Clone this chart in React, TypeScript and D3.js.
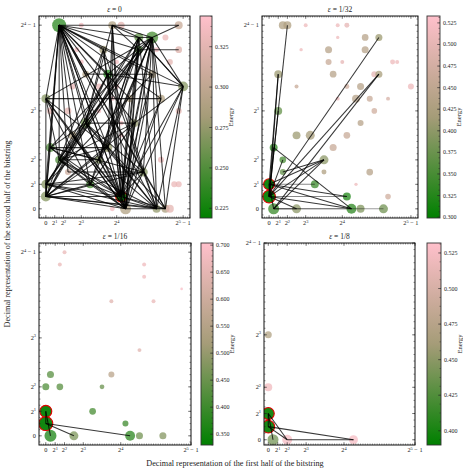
import React from "react";
import * as d3 from "d3";

// Node: [first-half value, second-half value, energy, probability, highlighted]
type Node = [number, number, number, number, number?];
// Edge: [x1, y1, x2, y2, weight]
type Edge = [number, number, number, number, number?];

const X_TICKS = [0, 2, 4, 8, 16, 31];
const Y_TICKS = [0, 2, 4, 8, 15];
// [base, exponent, suffix]
const X_TICK_LABELS: [string, string, string][] = [
  ["0", "", ""], ["2", "1", ""], ["2", "2", ""], ["2", "3", ""], ["2", "4", ""], ["2", "5", " − 1"],
];
const Y_TICK_LABELS: [string, string, string][] = [
  ["0", "", ""], ["2", "1", ""], ["2", "2", ""], ["2", "3", ""], ["2", "4", " − 1"],
];

const TITLES = ["0", "1/32", "1/16", "1/8"];

const nodesEps0: Node[] = [
  [8, 15, 0.335, 0.11], [15, 15, 0.29, 0.28], [17, 15, 0.325, 0.22], [30, 15, 0.305, 0.28],
  [21, 14, 0.255, 0.36], [27, 14, 0.33, 0.16],
  [7, 13, 0.335, 0.11], [13, 13, 0.28, 0.28], [21, 13, 0.25, 0.28], [25, 13, 0.335, 0.11], [30, 13, 0.32, 0.2],
  [8, 12, 0.335, 0.11], [28, 12, 0.325, 0.16], [16, 12, 0.335, 0.09],
  [9, 11, 0.29, 0.2], [14, 11, 0.232, 0.36], [24, 11, 0.29, 0.28],
  [6, 10, 0.33, 0.16], [12, 10, 0.33, 0.16], [16, 10, 0.335, 0.11], [31, 10, 0.27, 0.44],
  [0, 9, 0.27, 0.36], [15, 9, 0.335, 0.11], [19, 9, 0.29, 0.22], [26, 9, 0.29, 0.28],
  [1, 8, 0.325, 0.2], [5, 8, 0.325, 0.2], [12, 8, 0.335, 0.09], [30, 8, 0.325, 0.16],
  [9, 7, 0.262, 0.44], [17, 7, 0.335, 0.11], [20, 7, 0.275, 0.28],
  [6, 6, 0.29, 0.28], [17, 6, 0.335, 0.09],
  [1, 5, 0.25, 0.36], [14, 5, 0.275, 0.36],
  [3, 4, 0.25, 0.28], [12, 4, 0.27, 0.28], [26, 4, 0.33, 0.16],
  [5, 3, 0.31, 0.16], [22, 3, 0.27, 0.36],
  [0, 2, 0.27, 0.36], [10, 2, 0.245, 0.28], [29, 2, 0.33, 0.16], [30, 2, 0.33, 0.16],
  [0, 1, 0.27, 0.44],
  [15, 0, 0.335, 0.11], [18, 0, 0.29, 0.54], [25, 0, 0.275, 0.28], [27, 0, 0.285, 0.28], [28, 0, 0.325, 0.28],
  [24, 14, 0.245, 0.64], [3, 15, 0.235, 0.87],
  [17, 1, 0.222, 0.54, 1],
];

const edgesEps0: Edge[] = [
  [3, 15, 0, 9], [3, 15, 0, 2], [3, 15, 0, 1], [3, 15, 1, 5], [3, 15, 3, 4], [3, 15, 5, 3], [3, 15, 6, 6],
  [3, 15, 9, 7], [3, 15, 10, 2], [3, 15, 12, 4], [3, 15, 14, 5], [3, 15, 14, 11], [3, 15, 17, 1], [3, 15, 18, 0],
  [3, 15, 20, 7], [3, 15, 22, 3], [3, 15, 25, 0], [3, 15, 27, 0], [3, 15, 21, 13], [3, 15, 30, 15], [3, 15, 31, 10],
  [3, 15, 24, 11], [3, 15, 13, 13], [3, 15, 26, 9], [3, 15, 19, 9], [3, 15, 9, 11], [3, 15, 21, 14],
  [24, 14, 17, 1], [24, 14, 18, 0], [24, 14, 25, 0], [24, 14, 27, 0], [24, 14, 14, 5], [24, 14, 12, 4],
  [24, 14, 22, 3], [24, 14, 10, 2], [24, 14, 9, 7], [24, 14, 0, 2], [24, 14, 1, 5], [24, 14, 31, 10],
  [24, 14, 30, 15], [24, 14, 21, 14], [24, 14, 15, 15], [24, 14, 20, 7], [24, 14, 14, 11],
  [21, 14, 17, 1], [21, 14, 18, 0], [21, 14, 10, 2], [21, 14, 12, 4], [21, 14, 14, 5], [21, 14, 3, 4],
  [21, 14, 0, 1], [21, 14, 31, 10], [21, 14, 15, 15], [21, 14, 25, 0],
  [15, 15, 17, 1], [15, 15, 18, 0], [15, 15, 15, 9], [15, 15, 14, 5], [15, 15, 9, 7], [15, 15, 21, 13],
  [21, 13, 30, 13], [21, 13, 17, 1], [21, 13, 18, 0], [21, 13, 0, 2], [21, 13, 3, 4], [21, 13, 12, 4],
  [14, 11, 24, 11], [9, 11, 14, 11], [14, 11, 17, 1], [14, 11, 18, 0], [14, 11, 0, 1], [14, 11, 9, 7],
  [14, 11, 3, 4], [14, 11, 22, 3],
  [31, 10, 27, 0], [31, 10, 25, 0], [31, 10, 17, 1], [31, 10, 14, 11], [31, 10, 22, 3], [31, 10, 20, 7],
  [31, 10, 21, 14],
  [0, 9, 26, 9], [0, 9, 0, 1], [0, 9, 17, 1], [0, 9, 18, 0], [0, 9, 10, 2], [0, 9, 3, 4], [0, 9, 14, 5],
  [0, 9, 24, 14],
  [13, 13, 17, 1], [13, 13, 18, 0], [13, 13, 9, 7], [13, 13, 3, 4], [13, 13, 25, 0],
  [9, 7, 17, 1], [9, 7, 18, 0], [9, 7, 0, 1], [9, 7, 0, 2], [9, 7, 25, 0], [9, 7, 27, 0], [9, 7, 1, 5],
  [9, 7, 22, 3], [9, 7, 20, 7],
  [20, 7, 17, 1], [20, 7, 18, 0], [20, 7, 0, 1], [20, 7, 3, 4], [20, 7, 10, 2],
  [14, 5, 17, 1], [14, 5, 0, 1], [14, 5, 1, 5], [14, 5, 3, 4], [14, 5, 25, 0],
  [1, 5, 17, 1], [1, 5, 18, 0], [1, 5, 12, 4], [1, 5, 0, 1], [1, 5, 22, 3],
  [3, 4, 12, 4], [3, 4, 17, 1], [3, 4, 18, 0], [3, 4, 0, 1], [3, 4, 10, 2], [3, 4, 25, 0],
  [12, 4, 17, 1], [12, 4, 18, 0], [12, 4, 0, 1], [12, 4, 25, 0],
  [22, 3, 5, 3], [22, 3, 17, 1], [22, 3, 18, 0], [22, 3, 0, 1], [22, 3, 0, 2], [22, 3, 25, 0], [22, 3, 27, 0],
  [10, 2, 17, 1], [10, 2, 18, 0], [10, 2, 0, 1], [10, 2, 0, 2],
  [0, 1, 17, 1], [0, 1, 18, 0], [0, 1, 25, 0], [0, 1, 27, 0], [0, 1, 0, 2],
  [0, 2, 17, 1], [0, 2, 18, 0], [0, 2, 25, 0],
  [17, 1, 25, 0], [17, 1, 27, 0], [17, 1, 18, 0], [18, 0, 27, 0],
  [26, 9, 17, 1], [26, 9, 18, 0], [26, 9, 24, 14],
  [19, 9, 17, 1], [24, 11, 17, 1], [24, 11, 18, 0], [24, 11, 0, 2],
  [6, 6, 17, 1], [6, 6, 18, 0],
];

const nodesEps32: Node[] = [
  [3, 15, 0.43, 0.28], [4, 15, 0.43, 0.28], [8, 15, 0.51, 0.07], [15, 15, 0.51, 0.07], [17, 15, 0.5, 0.11],
  [15, 14, 0.51, 0.05], [21, 14, 0.44, 0.2], [24, 14, 0.41, 0.22],
  [7, 13, 0.51, 0.05], [13, 13, 0.44, 0.22], [21, 13, 0.44, 0.22],
  [13, 12, 0.46, 0.16], [16, 12, 0.5, 0.07], [27, 12, 0.51, 0.11], [28, 12, 0.51, 0.07],
  [2, 11, 0.41, 0.28], [14, 11, 0.44, 0.2], [23, 11, 0.5, 0.16], [24, 11, 0.42, 0.22],
  [6, 10, 0.46, 0.07], [17, 10, 0.47, 0.11], [20, 10, 0.44, 0.22], [31, 10, 0.51, 0.16],
  [15, 9, 0.51, 0.07], [19, 9, 0.44, 0.28], [22, 9, 0.46, 0.16], [26, 9, 0.48, 0.07],
  [2, 8, 0.37, 0.28], [23, 8, 0.47, 0.14],
  [20, 7, 0.44, 0.16],
  [6, 6, 0.41, 0.28], [9, 6, 0.42, 0.36], [17, 6, 0.46, 0.2],
  [1, 5, 0.33, 0.28], [14, 5, 0.46, 0.22],
  [3, 4, 0.35, 0.2], [12, 4, 0.4, 0.36],
  [3, 3, 0.37, 0.16], [12, 3, 0.43, 0.11], [22, 3, 0.44, 0.2],
  [10, 2, 0.34, 0.28], [19, 2, 0.51, 0.05],
  [17, 1, 0.32, 0.28], [26, 1, 0.47, 0.14],
  [1, 0, 0.34, 0.54], [6, 0, 0.4, 0.36], [18, 0, 0.33, 0.44], [20, 0, 0.39, 0.28], [25, 0, 0.38, 0.36],
  [0, 2, 0.302, 0.54, 1], [0, 1, 0.302, 0.72, 1],
];

const edgesEps32: Edge[] = [
  [4, 15, 0, 1], [2, 11, 0, 1], [2, 11, 0, 2], [24, 14, 0, 1], [24, 11, 0, 1], [24, 11, 1, 0],
  [12, 4, 0, 2], [12, 4, 0, 1], [12, 4, 1, 0], [12, 4, 3, 3],
  [1, 5, 18, 0], [1, 5, 0, 1], [3, 4, 0, 1], [2, 8, 0, 1],
  [10, 2, 0, 2, 0.6], [17, 1, 0, 1, 0.6], [17, 1, 0, 2], [18, 0, 0, 1], [18, 0, 0, 2], [18, 0, 1, 0, 0.5],
  [25, 0, 1, 0, 0.5], [6, 0, 1, 0, 0.5], [6, 0, 0, 1], [0, 2, 0, 1], [0, 2, 1, 0],
];

const nodesEps16: Node[] = [
  [4, 15, 0.66, 0.07], [3, 14, 0.66, 0.07], [21, 14, 0.67, 0.07], [21, 13, 0.67, 0.07], [29, 12, 0.69, 0.03],
  [14, 11, 0.64, 0.07], [23, 11, 0.66, 0.07], [20, 7, 0.64, 0.07],
  [14, 5, 0.56, 0.16], [1, 5, 0.43, 0.22], [0, 4, 0.42, 0.22], [3, 4, 0.43, 0.2], [12, 4, 0.45, 0.1],
  [10, 2, 0.41, 0.2], [17, 1, 0.4, 0.16],
  [1, 0, 0.36, 0.64], [6, 0, 0.47, 0.36], [18, 0, 0.38, 0.44], [20, 0, 0.46, 0.22], [25, 0, 0.48, 0.22],
  [0, 2, 0.335, 0.64, 1], [0, 1, 0.335, 0.87, 1],
];

const edgesEps16: Edge[] = [
  [0, 2, 1, 0], [0, 1, 6, 0], [0, 1, 18, 0], [0, 2, 0, 1],
];

const nodesEps8: Node[] = [
  [0, 8, 0.47, 0.22], [0, 4, 0.52, 0.28],
  [1, 0, 0.44, 0.54], [4, 0, 0.525, 0.44], [18, 0, 0.525, 0.36],
  [0, 2, 0.395, 0.64, 1], [0, 1, 0.395, 0.72, 1],
];

const edgesEps8: Edge[] = [
  [0, 2, 1, 0], [0, 2, 4, 0], [0, 1, 4, 0], [0, 1, 18, 0], [4, 0, 18, 0], [0, 2, 0, 1],
];

const energyRanges: [number, number][] = [
  [0.219, 0.344], [0.299, 0.533], [0.33, 0.704], [0.39, 0.532],
];
const energyTicks: number[][] = [
  [0.225, 0.25, 0.275, 0.3, 0.325],
  [0.3, 0.325, 0.35, 0.375, 0.4, 0.425, 0.45, 0.475, 0.5, 0.525],
  [0.35, 0.4, 0.45, 0.5, 0.55, 0.6, 0.65, 0.7],
  [0.4, 0.425, 0.45, 0.475, 0.5, 0.525],
];

// green → khaki grey → pink
const CMAP_STOPS = ["#008000", "#a59c78", "#ffc0cb"];

const FONT = "'Liberation Serif', 'DejaVu Serif', serif";

type Layout = { fx0: number; fx1: number; fy0: number; fy1: number; cx0: number; cx1: number };

const LAYOUTS: Layout[] = [
  { fx0: 39, fx1: 190, fy0: 16, fy1: 218, cx0: 200, cx1: 212 },
  { fx0: 262, fx1: 418, fy0: 16, fy1: 218, cx0: 427, cx1: 440 },
  { fx0: 39, fx1: 191, fy0: 243, fy1: 445, cx0: 201, cx1: 213 },
  { fx0: 264, fx1: 415, fy0: 243, fy1: 445, cx0: 427, cx1: 441 },
];

const PANEL_DATA: { nodes: Node[]; edges: Edge[] }[] = [
  { nodes: nodesEps0, edges: edgesEps0 },
  { nodes: nodesEps32, edges: edgesEps32 },
  { nodes: nodesEps16, edges: edgesEps16 },
  { nodes: nodesEps8, edges: edgesEps8 },
];

// autoscale with 5% margins, then widen so every tick is visible
function viewDomain(vals: number[], ticks: number[]): [number, number] {
  const [lo, hi] = d3.extent(vals) as [number, number];
  const pad = (hi - lo) * 0.05;
  return [Math.min(lo - pad, d3.min(ticks)!), Math.max(hi + pad, d3.max(ticks)!)];
}

function PowLabel({ x, y, lab, anchor }: { x: number; y: number; lab: [string, string, string]; anchor: string }) {
  const [b, e, s] = lab;
  return (
    <text x={x} y={y} textAnchor={anchor} fontSize={6.3} fontFamily={FONT} fill="#222">
      <tspan>{b}</tspan>
      {e && (
        <tspan dy={-2.6} fontSize={4.4}>
          {e}
        </tspan>
      )}
      {e && <tspan dy={2.6}>{s}</tspan>}
    </text>
  );
}

function Panel({ idx }: { idx: number }) {
  const L = LAYOUTS[idx];
  const { nodes, edges } = PANEL_DATA[idx];
  const xDom = viewDomain(nodes.map((d) => d[0]), X_TICKS);
  const yDom = viewDomain(nodes.map((d) => d[1]), Y_TICKS);
  const x = d3.scaleLinear().domain(xDom).range([L.fx0, L.fx1]);
  const y = d3.scaleLinear().domain(yDom).range([L.fy1, L.fy0]);
  const r = d3.scaleSqrt().domain([0, 1]).range([0, 7.5]);
  const eR = energyRanges[idx];
  const col = d3
    .scaleLinear<string>()
    .domain([eR[0], (eR[0] + eR[1]) / 2, eR[1]])
    .range(CMAP_STOPS)
    .interpolate(d3.interpolateRgb);
  const cy = d3.scaleLinear().domain(eR).range([L.fy1, L.fy0]);
  const eT = energyTicks[idx];
  const eStep = eT[1] - eT[0];
  const stepNorm = eStep / Math.pow(10, Math.floor(Math.log10(eStep)));
  const eDiv = Math.abs(stepNorm - 1) < 1e-6 || Math.abs(stepNorm - 5) < 1e-6 ? 5 : 4;
  const eMinor = d3
    .range(Math.ceil(eR[0] / (eStep / eDiv)), Math.floor(eR[1] / (eStep / eDiv)) + 1)
    .map((k) => (k * eStep) / eDiv);

  const xMinor = d3.range(Math.ceil(xDom[0] * 2), Math.floor(xDom[1] * 2) + 1).map((k) => k / 2);
  const yMinor = d3.range(Math.ceil(yDom[0] * 2), Math.floor(yDom[1] * 2) + 1).map((k) => k / 2);
  const gid = `cbar${idx}`;
  const clip = `clip${idx}`;
  const tk = "#222";

  return (
    <g>
      <defs>
        <linearGradient id={gid} x1="0" y1="1" x2="0" y2="0">
          {d3.range(0, 1.0001, 0.05).map((t) => (
            <stop key={t} offset={t} stopColor={col(eR[0] + t * (eR[1] - eR[0]))} />
          ))}
        </linearGradient>
        <clipPath id={clip}>
          <rect x={L.fx0} y={L.fy0} width={L.fx1 - L.fx0} height={L.fy1 - L.fy0} />
        </clipPath>
      </defs>

      <text
        x={(L.fx0 + L.fx1) / 2}
        y={L.fy0 - 4.5}
        textAnchor="middle"
        fontSize={7.5}
        fontFamily={FONT}
        fill="#222"
      >
        <tspan fontStyle="italic">ε</tspan>
        <tspan> = {TITLES[idx]}</tspan>
      </text>

      <g clipPath={`url(#${clip})`}>
        {nodes.map((d, i) => (
          <circle
            key={i}
            cx={x(d[0])}
            cy={y(d[1])}
            r={r(d[3])}
            fill={col(d[2])}
            fillOpacity={d[4] ? 0.95 : 0.75}
            stroke={d[4] ? "#e00000" : "none"}
            strokeWidth={d[4] ? 1.1 : 0}
          />
        ))}
        {edges.map((e, i) => (
          <line
            key={i}
            x1={x(e[0])}
            y1={y(e[1])}
            x2={x(e[2])}
            y2={y(e[3])}
            stroke="#000"
            strokeOpacity={0.78 * (e[4] ?? 1)}
            strokeWidth={1.05}
          />
        ))}
      </g>

      {/* frame ticks, inward on all four sides */}
      <g stroke={tk} strokeWidth={0.5}>
        {xMinor.map((v) => (
          <g key={`xm${v}`}>
            <line x1={x(v)} x2={x(v)} y1={L.fy1} y2={L.fy1 - 1.5} />
            <line x1={x(v)} x2={x(v)} y1={L.fy0} y2={L.fy0 + 1.5} />
          </g>
        ))}
        {yMinor.map((v) => (
          <g key={`ym${v}`}>
            <line x1={L.fx0} x2={L.fx0 + 1.5} y1={y(v)} y2={y(v)} />
            <line x1={L.fx1} x2={L.fx1 - 1.5} y1={y(v)} y2={y(v)} />
          </g>
        ))}
        {X_TICKS.map((v) => (
          <g key={`xM${v}`}>
            <line x1={x(v)} x2={x(v)} y1={L.fy1} y2={L.fy1 - 3} />
            <line x1={x(v)} x2={x(v)} y1={L.fy0} y2={L.fy0 + 3} />
          </g>
        ))}
        {Y_TICKS.map((v) => (
          <g key={`yM${v}`}>
            <line x1={L.fx0} x2={L.fx0 + 3} y1={y(v)} y2={y(v)} />
            <line x1={L.fx1} x2={L.fx1 - 3} y1={y(v)} y2={y(v)} />
          </g>
        ))}
      </g>
      <rect
        x={L.fx0}
        y={L.fy0}
        width={L.fx1 - L.fx0}
        height={L.fy1 - L.fy0}
        fill="none"
        stroke="#111"
        strokeWidth={1}
      />

      {X_TICKS.map((v, i) => (
        <PowLabel key={`xl${v}`} x={x(v)} y={L.fy1 + 7.2} lab={X_TICK_LABELS[i]} anchor="middle" />
      ))}
      {Y_TICKS.map((v, i) => (
        <PowLabel key={`yl${v}`} x={L.fx0 - 3} y={y(v) + 2.2} lab={Y_TICK_LABELS[i]} anchor="end" />
      ))}

      {/* colour bar */}
      <rect
        x={L.cx0}
        y={L.fy0}
        width={L.cx1 - L.cx0}
        height={L.fy1 - L.fy0}
        fill={`url(#${gid})`}
      />
      <g stroke={tk} strokeWidth={0.5}>
        {eMinor.map((v) => (
          <line key={`em${v}`} x1={L.cx1} x2={L.cx1 - 1.5} y1={cy(v)} y2={cy(v)} />
        ))}
        {eT.map((v) => (
          <line key={`eM${v}`} x1={L.cx1} x2={L.cx1 - 3} y1={cy(v)} y2={cy(v)} />
        ))}
      </g>
      <rect
        x={L.cx0}
        y={L.fy0}
        width={L.cx1 - L.cx0}
        height={L.fy1 - L.fy0}
        fill="none"
        stroke="#333"
        strokeWidth={0.9}
      />
      {eT.map((v) => (
        <text
          key={`et${v}`}
          x={L.cx1 + 3}
          y={cy(v) + 2}
          fontSize={6}
          fontFamily={FONT}
          fill="#222"
        >
          {d3.format(".3f")(v)}
        </text>
      ))}
      <text
        transform={`translate(${L.cx1 + 21},${(L.fy0 + L.fy1) / 2}) rotate(-90)`}
        textAnchor="middle"
        fontSize={6.6}
        fontFamily={FONT}
        fill="#222"
      >
        Energy
      </text>
    </g>
  );
}

export default function App() {
  return (
    <svg
      width={463}
      height={470}
      viewBox="0 0 463 470"
      style={{ position: "absolute", left: 0, top: 0, background: "#fff" }}
    >
      <rect width={463} height={470} fill="#fff" />
      {[0, 1, 2, 3].map((i) => (
        <Panel key={i} idx={i} />
      ))}
      <text
        x={235}
        y={466}
        textAnchor="middle"
        fontSize={8.2}
        fontFamily={FONT}
        fill="#222"
      >
        Decimal representation of the first half of the bitstring
      </text>
      <text
        transform="translate(10,234) rotate(-90)"
        textAnchor="middle"
        fontSize={8.2}
        fontFamily={FONT}
        fill="#222"
      >
        Decimal representation of the second half of the bitstring
      </text>
    </svg>
  );
}
